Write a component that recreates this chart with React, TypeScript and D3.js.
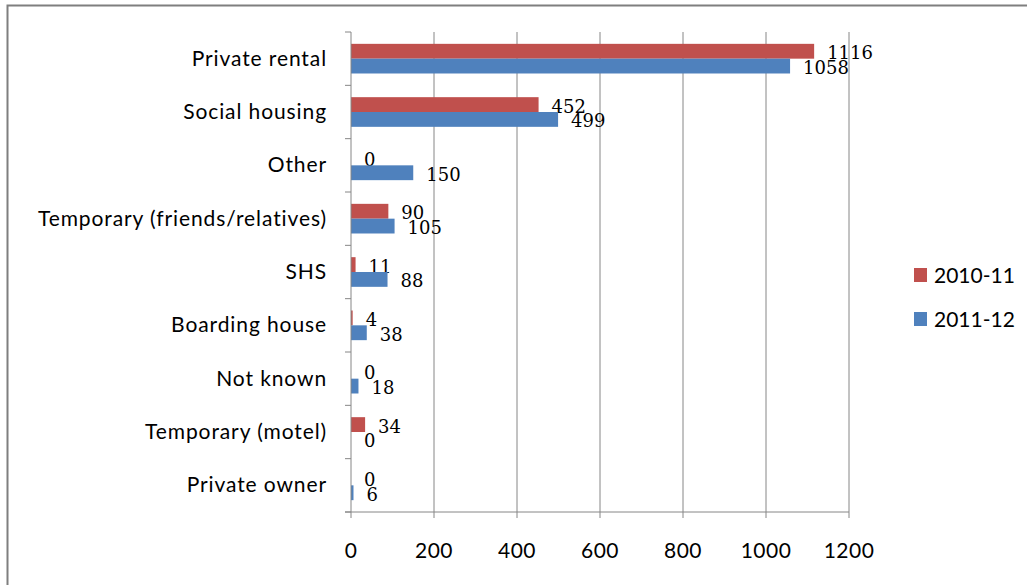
import React from "react";
import * as d3 from "d3";

const categories = [
  "Private rental",
  "Social housing",
  "Other",
  "Temporary (friends/relatives)",
  "SHS",
  "Boarding house",
  "Not known",
  "Temporary (motel)",
  "Private owner",
];
const seriesNames = ["2010-11", "2011-12"];
const values2010 = [1116, 452, 0, 90, 11, 4, 0, 34, 0];
const values2011 = [1058, 499, 150, 105, 88, 38, 18, 0, 6];
const xTicks = [0, 200, 400, 600, 800, 1000, 1200];
const colors = ["#C0504D", "#4F81BD"];

const W = 1027;
const H = 585;
const plotLeft = 351;
const plotRight = 849;
const plotTop = 32;
const plotBottom = 512;

export default function App() {
  const x = d3.scaleLinear().domain([0, 1200]).range([plotLeft, plotRight]);
  const y = d3.scaleBand<string>().domain(categories).range([plotTop, plotBottom]).padding(0);
  const bw = y.bandwidth();
  const inner = d3
    .scaleBand<string>()
    .domain(seriesNames)
    .range([bw * 0.222, bw * 0.778])
    .padding(0);
  const series = [values2010, values2011];
  const grid = "#868686";
  const sans = "Lato, 'Open Sans', sans-serif";
  const serif = "'DejaVu Serif', 'Liberation Serif', serif";

  return (
    <svg
      width={W}
      height={H}
      style={{ position: "absolute", left: 0, top: 0, background: "#fff" }}
    >
      <rect x={0} y={0} width={W} height={H} fill="#fff" />
      <rect x={7.5} y={5.5} width={1200} height={800} fill="none" stroke="#7f7f7f" strokeWidth={2} />

      {/* gridlines */}
      {xTicks.slice(1).map((t) => (
        <line key={"g" + t} x1={x(t)} x2={x(t)} y1={plotTop} y2={plotBottom + 6} stroke={grid} strokeWidth={1} />
      ))}
      {/* x axis */}
      <line x1={plotLeft - 6} x2={plotRight} y1={plotBottom} y2={plotBottom} stroke={grid} strokeWidth={1} />
      <line x1={x(0)} x2={x(0)} y1={plotBottom} y2={plotBottom + 6} stroke={grid} strokeWidth={1} />
      {xTicks.map((t) => (
        <text
          key={"t" + t}
          x={x(t)}
          y={plotBottom + 46}
          textAnchor="middle"
          fontFamily={sans}
          fontSize={21}
          letterSpacing={0.5}
          fill="#000"
        >
          {t}
        </text>
      ))}

      {/* bars */}
      {categories.map((c, i) =>
        seriesNames.map((s, j) => {
          const v = series[j][i];
          const by = (y(c) as number) + (inner(s) as number);
          const bh = inner.bandwidth();
          return (
            <g key={c + s}>
              {v > 0 && (
                <rect x={x(0)} y={by} width={x(v) - x(0)} height={bh} fill={colors[j]} />
              )}
              <text
                x={x(v) + 13}
                y={by + bh + 0.5}
                fontFamily={serif}
                fontSize={18}
                fill="#000"
              >
                {v}
              </text>
            </g>
          );
        })
      )}

      {/* y axis */}
      <line x1={plotLeft} x2={plotLeft} y1={plotTop} y2={plotBottom} stroke={grid} strokeWidth={1} />
      {d3.range(categories.length + 1).map((k) => (
        <line
          key={"yt" + k}
          x1={plotLeft - 6}
          x2={plotLeft}
          y1={plotTop + k * bw}
          y2={plotTop + k * bw}
          stroke={grid}
          strokeWidth={1}
        />
      ))}
      {categories.map((c) => (
        <text
          key={"c" + c}
          x={327}
          y={(y(c) as number) + bw / 2 + 7}
          textAnchor="end"
          fontFamily={sans}
          fontSize={21}
          letterSpacing={0.9}
          fill="#000"
        >
          {c}
        </text>
      ))}

      {/* legend */}
      {seriesNames.map((s, j) => (
        <g key={"l" + s}>
          <rect x={914} y={268 + j * 44} width={13} height={14} fill={colors[j]} />
          <text x={934} y={283 + j * 44} fontFamily={sans} fontSize={21} fill="#000">
            {s}
          </text>
        </g>
      ))}
    </svg>
  );
}
